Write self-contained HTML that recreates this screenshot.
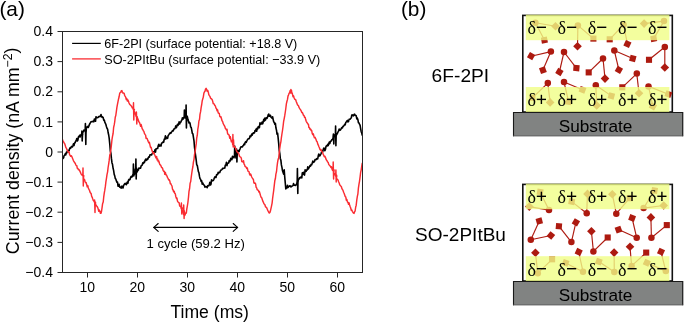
<!DOCTYPE html>
<html><head><meta charset="utf-8"><title>figure</title>
<style>
html,body{margin:0;padding:0;background:#fff;}
svg{display:block;will-change:transform;font-family:"Liberation Sans",sans-serif;fill:#000;}
.ser{font-family:"Liberation Serif",serif;font-size:18px;stroke:#000;stroke-width:1.4;}
.ser text{stroke:none;}
</style></head><body>
<svg width="685" height="324" viewBox="0 0 685 324">
<rect width="685" height="324" fill="#fff"/>
<!-- panel a -->
<text x="-0.6" y="16.2" font-size="20.8">(a)</text>
<g clip-path="url(#cp)">
<path d="M62.5,156.9 L63.0,158.5 L63.6,157.8 L64.1,155.6 L64.7,155.2 L65.2,153.9 L65.8,154.8 L66.3,152.3 L66.9,152.8 L67.4,151.1 L68.0,150.3 L68.5,150.8 L69.1,150.7 L69.6,148.8 L70.2,147.6 L70.7,148.2 L71.3,146.8 L71.8,146.4 L72.4,146.9 L72.9,145.8 L73.5,143.7 L74.0,145.5 L74.6,142.8 L75.1,142.8 L75.7,140.9 L76.2,140.7 L76.8,138.5 L77.3,141.0 L77.9,140.0 L78.4,137.0 L79.0,136.1 L79.5,135.3 L80.1,137.1 L80.6,135.0 L81.2,134.7 L81.7,133.8 L81.9,131.0 L82.2,141.0 L82.5,135.0 L82.8,133.8 L82.3,133.3 L82.8,131.7 L83.4,132.0 L83.9,130.1 L84.5,130.6 L85.0,130.3 L85.2,129.8 L85.4,123.6 L85.8,144.4 L86.0,133.0 L86.3,129.8 L86.1,128.5 L86.7,127.2 L87.2,127.5 L87.8,126.3 L88.3,127.5 L88.9,126.0 L89.4,124.5 L90.0,123.5 L90.5,122.5 L91.1,121.6 L91.6,121.7 L92.2,121.7 L92.7,121.4 L93.3,121.0 L93.8,121.9 L94.4,119.0 L94.9,119.2 L95.5,121.3 L96.0,116.7 L96.6,117.5 L97.1,117.8 L97.7,117.5 L98.2,117.4 L98.8,116.5 L99.3,116.7 L99.9,116.2 L100.4,116.5 L101.0,114.5 L101.5,116.0 L102.1,117.3 L102.6,116.9 L103.2,117.6 L103.7,120.1 L104.3,120.0 L104.8,122.2 L105.4,123.4 L105.9,124.5 L106.5,126.7 L107.0,128.3 L107.6,129.2 L108.1,132.5 L108.7,135.0 L109.2,138.4 L109.8,144.3 L110.3,150.7 L110.9,153.3 L111.4,158.2 L112.0,162.9 L112.5,164.3 L113.1,168.3 L113.6,170.4 L114.2,174.4 L114.7,175.7 L115.3,178.6 L115.8,178.9 L116.4,180.9 L116.9,182.2 L117.5,182.0 L118.0,186.2 L118.6,186.2 L119.1,184.3 L119.7,187.1 L120.2,186.8 L120.8,187.8 L121.3,188.1 L121.9,186.1 L122.4,186.9 L123.0,188.0 L123.5,185.8 L124.1,184.7 L124.6,183.8 L125.2,183.3 L125.7,184.1 L126.3,184.7 L126.8,182.9 L127.4,182.1 L127.9,183.3 L128.5,180.2 L129.0,179.4 L129.6,179.9 L130.1,179.2 L130.7,177.2 L131.2,176.4 L131.8,177.1 L132.3,176.5 L132.9,174.4 L133.2,174.8 L133.4,164.0 L133.8,176.0 L134.0,169.0 L134.3,174.8 L134.0,173.9 L134.5,174.1 L135.1,173.0 L135.6,172.4 L135.7,171.5 L135.9,159.0 L136.2,179.0 L136.5,168.0 L136.8,171.5 L136.7,172.2 L137.3,171.8 L137.8,169.6 L138.4,170.1 L138.9,168.0 L139.5,168.2 L140.0,168.1 L140.6,168.2 L141.1,165.9 L141.7,165.5 L142.2,165.1 L142.8,162.7 L143.3,163.5 L143.9,162.2 L144.4,162.6 L145.0,160.6 L145.6,159.2 L146.1,160.4 L146.7,160.0 L147.2,158.7 L147.8,159.3 L148.3,157.7 L148.9,156.8 L149.4,157.1 L150.0,154.7 L150.5,154.8 L151.1,154.8 L151.6,155.0 L152.2,153.5 L152.7,153.3 L153.3,151.8 L153.8,152.0 L154.4,152.7 L154.9,149.9 L155.5,152.1 L156.0,148.7 L156.6,148.7 L157.1,148.2 L157.7,148.4 L158.2,145.7 L158.8,144.3 L159.3,146.2 L159.9,145.7 L160.4,145.0 L161.0,146.1 L161.5,143.4 L162.1,142.8 L162.6,142.8 L163.2,141.7 L163.7,142.2 L164.3,139.0 L164.8,139.1 L165.4,135.8 L165.9,139.0 L166.5,137.3 L167.0,137.9 L167.6,138.3 L168.1,135.8 L168.7,134.9 L169.2,134.1 L169.8,133.2 L170.3,132.8 L170.9,133.3 L171.4,132.1 L172.0,131.5 L172.5,130.6 L173.1,131.0 L173.6,129.9 L174.2,128.7 L174.7,128.8 L175.3,127.5 L175.8,125.9 L176.4,127.7 L176.9,126.1 L177.5,124.2 L178.0,125.4 L178.6,124.2 L179.1,121.8 L179.7,124.0 L180.2,122.3 L180.8,122.2 L181.3,120.9 L181.9,119.9 L182.4,117.8 L183.0,119.3 L183.5,117.7 L184.1,117.0 L184.2,117.1 L184.4,110.0 L184.8,118.0 L185.0,113.0 L185.3,117.1 L185.2,116.8 L185.7,117.8 L185.9,117.4 L186.1,105.0 L186.4,128.0 L186.7,115.5 L187.0,117.4 L186.8,118.2 L187.4,116.8 L187.9,119.3 L188.5,121.3 L189.0,122.9 L189.6,122.4 L190.1,123.6 L190.7,127.1 L191.2,127.4 L191.8,130.4 L192.3,133.3 L192.9,133.8 L193.4,137.2 L194.0,140.9 L194.5,147.1 L195.1,152.0 L195.6,155.7 L196.2,160.1 L196.7,164.7 L197.3,165.5 L197.8,168.3 L198.4,171.7 L198.9,172.6 L199.5,176.4 L200.0,178.7 L200.6,179.3 L201.1,181.4 L201.7,180.8 L202.2,184.2 L202.8,183.0 L203.3,184.3 L203.9,184.9 L204.4,185.5 L205.0,187.1 L205.5,186.9 L206.1,186.5 L206.6,187.0 L207.2,187.6 L207.7,185.8 L208.3,185.6 L208.8,185.8 L209.4,184.3 L209.9,182.3 L210.5,185.0 L211.0,184.1 L211.6,179.7 L212.1,180.9 L212.7,180.6 L213.2,180.5 L213.8,179.6 L214.3,178.1 L214.9,176.8 L215.4,177.2 L216.0,177.4 L216.5,174.9 L217.1,174.3 L217.6,174.6 L218.2,172.2 L218.7,173.1 L219.3,172.3 L219.8,172.5 L220.4,170.8 L220.9,170.1 L221.5,169.9 L222.0,169.5 L222.6,168.4 L223.1,168.3 L223.7,168.4 L224.2,168.1 L224.8,168.0 L225.3,165.1 L225.9,164.8 L226.4,162.3 L227.0,165.6 L227.5,163.2 L228.1,163.1 L228.6,163.0 L229.2,160.6 L229.7,161.6 L230.3,160.5 L230.8,158.2 L231.4,159.5 L231.9,159.6 L232.5,156.2 L233.0,158.0 L233.6,156.8 L234.1,156.4 L234.5,155.7 L234.7,146.0 L235.1,158.0 L235.3,151.0 L235.6,155.7 L235.2,155.8 L235.8,153.8 L236.3,154.1 L236.4,152.3 L236.6,149.0 L236.9,162.0 L237.2,154.5 L237.5,152.3 L237.4,152.7 L238.0,150.6 L238.5,150.6 L239.1,151.6 L239.6,149.8 L240.2,148.6 L240.7,147.1 L241.3,146.7 L241.8,147.0 L242.4,147.0 L242.9,145.9 L243.5,145.3 L244.0,144.1 L244.6,144.7 L245.1,142.5 L245.7,141.7 L246.2,142.4 L246.8,141.0 L247.3,140.0 L247.9,139.1 L248.4,138.7 L249.0,138.8 L249.5,138.0 L250.1,135.9 L250.6,136.7 L251.2,135.8 L251.7,134.1 L252.3,135.1 L252.8,133.5 L253.4,132.8 L253.9,133.1 L254.5,132.9 L255.0,130.5 L255.6,130.8 L256.1,129.0 L256.7,131.2 L257.2,128.0 L257.8,128.8 L258.3,126.5 L258.9,127.1 L259.4,127.7 L260.0,122.7 L260.5,124.0 L261.1,124.2 L261.6,123.1 L262.2,122.0 L262.7,123.9 L263.3,121.5 L263.8,119.3 L264.4,121.0 L264.9,118.1 L265.5,120.1 L266.0,118.0 L266.6,117.9 L267.1,118.3 L267.7,116.6 L268.2,114.7 L268.8,114.0 L269.3,116.2 L269.9,116.1 L270.4,115.3 L271.0,117.3 L271.5,117.5 L272.1,118.3 L272.6,116.7 L273.2,119.6 L273.7,121.7 L274.3,122.6 L274.8,124.2 L275.4,123.3 L275.9,127.8 L276.5,130.2 L277.0,134.1 L277.6,133.1 L278.1,137.6 L278.7,143.6 L279.2,150.0 L279.8,153.3 L280.3,158.4 L280.9,160.3 L281.4,164.9 L282.0,167.7 L282.5,170.8 L283.1,172.5 L283.6,174.1 L284.2,169.8 L284.7,176.6 L285.3,183.3 L285.8,188.9 L286.4,187.6 L286.9,188.0 L287.5,185.2 L288.0,187.5 L288.6,186.7 L289.1,186.4 L289.7,185.9 L290.2,185.8 L290.8,186.9 L291.3,186.7 L291.9,186.2 L292.4,185.9 L293.0,185.6 L293.5,183.6 L294.1,185.3 L294.6,185.0 L295.2,185.5 L295.7,185.2 L296.3,184.4 L296.8,183.9 L297.2,181.0 L297.4,168.6 L297.8,193.4 L298.0,180.0 L298.3,181.0 L297.9,179.0 L298.5,179.6 L299.0,179.2 L299.6,177.7 L300.1,177.9 L300.7,177.7 L301.2,176.5 L301.8,177.8 L302.3,172.9 L302.9,174.5 L303.4,172.3 L304.0,174.2 L304.5,175.1 L305.1,169.8 L305.6,171.5 L306.2,171.2 L306.7,169.8 L307.3,169.9 L307.8,166.7 L308.4,168.9 L308.9,167.8 L309.5,166.8 L310.0,165.6 L310.6,166.1 L311.1,164.4 L311.7,164.6 L312.2,163.3 L312.8,161.1 L313.3,162.4 L313.9,161.9 L314.4,161.8 L315.0,159.6 L315.5,159.7 L316.1,159.6 L316.6,158.6 L317.2,158.9 L317.7,158.9 L318.3,155.6 L318.8,154.0 L319.4,155.9 L319.9,155.8 L320.5,154.6 L321.0,153.8 L321.6,151.9 L322.1,151.1 L322.7,151.9 L323.2,149.6 L323.8,148.1 L324.3,148.2 L324.9,150.7 L325.4,149.5 L326.0,146.5 L326.5,145.8 L327.1,145.9 L327.6,144.4 L328.2,145.6 L328.7,143.7 L329.3,142.1 L329.8,143.6 L330.4,141.2 L330.9,141.3 L331.5,140.4 L332.0,139.5 L332.6,139.4 L333.1,137.8 L333.2,136.1 L333.4,134.0 L333.8,144.0 L334.0,138.0 L334.3,136.1 L334.2,135.1 L334.8,135.3 L335.3,135.0 L335.4,135.0 L335.6,126.0 L335.9,145.7 L336.2,134.8 L336.5,135.0 L336.4,134.4 L337.0,134.2 L337.5,133.2 L338.1,131.7 L338.6,131.1 L339.2,129.1 L339.7,130.2 L340.3,130.1 L340.8,129.5 L341.4,128.2 L341.9,127.5 L342.5,127.8 L343.0,126.3 L343.6,126.2 L344.1,125.4 L344.7,124.4 L345.2,124.8 L345.8,122.4 L346.3,122.0 L346.9,121.0 L347.4,120.4 L348.0,121.9 L348.5,121.5 L349.1,119.4 L349.6,119.3 L350.2,119.2 L350.7,118.3 L351.3,117.9 L351.8,115.0 L352.4,114.9 L352.9,115.5 L353.5,115.9 L354.0,114.5 L354.6,114.2 L355.1,115.2 L355.7,115.5 L356.2,115.8 L356.8,118.9 L357.3,118.0 L357.9,119.7 L358.4,122.7 L359.0,122.9 L359.5,124.1 L360.1,125.4 L360.6,128.4 L361.2,131.7 L361.7,132.9 L362.3,135.7" fill="none" stroke="#000" stroke-width="1.6" stroke-linejoin="round"/>
<path d="M62.5,139.5 L63.0,141.2 L63.6,141.9 L64.1,142.9 L64.7,143.7 L65.2,145.3 L65.8,147.4 L66.3,148.1 L66.9,149.6 L67.4,150.2 L68.0,151.5 L68.5,152.3 L69.1,152.0 L69.6,154.7 L70.2,155.4 L70.7,156.3 L71.3,155.7 L71.8,156.6 L72.4,158.1 L72.9,159.3 L73.5,160.8 L74.0,161.5 L74.6,162.8 L75.1,163.0 L75.7,164.6 L76.2,165.5 L76.8,165.7 L77.3,168.3 L77.9,168.5 L78.4,169.8 L79.0,169.5 L79.5,170.4 L80.1,171.6 L80.6,172.7 L81.2,174.1 L81.7,174.8 L82.3,175.2 L82.8,175.8 L83.0,168.0 L83.3,186.0 L83.6,176.0 L83.9,175.8 L83.4,177.2 L83.9,179.6 L84.5,179.4 L85.0,181.3 L85.6,182.6 L86.1,182.5 L86.7,184.7 L87.2,186.8 L87.8,185.6 L88.3,188.0 L88.9,189.3 L89.4,190.0 L90.0,192.1 L90.5,193.0 L91.1,193.3 L91.6,196.2 L92.2,197.3 L92.7,198.8 L93.3,200.4 L93.8,200.9 L94.4,202.0 L94.4,202.2 L94.6,200.0 L95.0,212.5 L95.2,205.2 L95.5,202.2 L95.5,204.6 L96.0,204.8 L96.6,205.9 L97.1,206.4 L97.7,207.6 L98.2,209.0 L98.8,211.3 L99.3,210.0 L99.9,211.3 L100.4,213.3 L101.0,213.2 L101.5,211.5 L102.1,207.4 L102.6,203.7 L103.2,202.1 L103.7,197.2 L104.3,192.8 L104.8,190.2 L105.4,186.2 L105.9,181.8 L106.5,178.2 L107.0,174.7 L107.6,171.8 L108.1,167.5 L108.7,163.8 L109.2,160.2 L109.8,155.0 L110.3,153.4 L110.9,149.3 L111.4,145.1 L112.0,139.4 L112.5,136.4 L113.1,133.5 L113.6,127.7 L114.2,124.9 L114.7,122.0 L115.3,116.9 L115.8,115.5 L116.4,111.2 L116.9,107.3 L117.5,104.1 L118.0,101.7 L118.6,98.7 L119.1,96.8 L119.7,93.4 L120.2,92.5 L120.8,92.4 L121.3,90.7 L121.9,90.6 L122.4,92.3 L123.0,93.2 L123.5,92.9 L124.1,93.3 L124.6,95.3 L125.2,96.3 L125.7,97.3 L126.3,99.5 L126.8,98.6 L127.4,101.0 L127.9,100.0 L128.5,101.2 L129.0,103.0 L129.6,104.2 L130.1,104.8 L130.7,105.3 L131.2,105.9 L131.8,106.8 L132.3,107.9 L132.9,108.2 L133.3,109.5 L133.5,102.8 L133.8,120.0 L134.1,110.4 L134.4,109.5 L134.0,110.9 L134.5,111.7 L135.1,113.4 L135.6,114.5 L136.2,116.7 L136.2,116.8 L136.4,112.0 L136.8,124.0 L137.0,117.0 L137.3,116.8 L137.3,117.5 L137.8,118.7 L138.4,120.2 L138.9,122.0 L139.5,122.4 L140.0,124.1 L140.6,126.3 L141.1,124.5 L141.7,126.7 L142.2,128.8 L142.8,129.5 L143.3,130.7 L143.9,131.4 L144.4,133.4 L145.0,134.4 L145.6,135.1 L146.1,138.4 L146.7,138.2 L147.2,138.8 L147.8,140.4 L148.3,141.6 L148.9,142.9 L149.4,142.3 L150.0,145.1 L150.5,147.4 L151.1,147.2 L151.6,149.2 L152.2,151.1 L152.7,152.3 L153.3,153.7 L153.8,152.4 L154.4,154.2 L154.9,155.2 L155.5,156.8 L156.0,158.1 L156.6,156.4 L157.1,159.9 L157.7,159.1 L158.2,161.5 L158.8,161.0 L159.3,163.1 L159.9,164.7 L160.4,164.7 L161.0,165.9 L161.5,167.3 L162.1,167.7 L162.6,168.5 L163.2,170.6 L163.7,171.2 L164.3,171.2 L164.8,174.3 L165.4,172.5 L165.9,174.9 L166.5,175.0 L167.0,176.2 L167.6,177.6 L168.1,178.5 L168.7,180.0 L169.2,179.7 L169.8,181.0 L170.3,183.7 L170.9,183.8 L171.4,185.0 L172.0,186.0 L172.5,189.1 L173.1,190.0 L173.6,191.8 L174.2,191.3 L174.7,193.3 L175.3,193.8 L175.8,196.5 L176.4,198.4 L176.9,198.0 L177.5,201.1 L178.0,202.0 L178.6,202.5 L179.1,202.6 L179.7,206.1 L180.2,206.1 L180.8,206.8 L181.2,208.6 L181.4,203.0 L181.8,214.0 L182.0,207.5 L182.3,208.6 L181.9,209.7 L182.4,211.5 L183.0,210.8 L183.5,213.4 L183.5,214.6 L183.7,205.0 L184.1,218.5 L184.3,210.8 L184.6,214.6 L184.6,215.5 L185.2,214.6 L185.7,213.0 L186.3,213.1 L186.8,209.0 L187.4,205.6 L187.9,202.5 L188.5,197.1 L189.0,191.4 L189.6,188.5 L190.1,183.4 L190.7,181.5 L191.2,177.4 L191.8,173.0 L192.3,169.7 L192.9,166.5 L193.4,162.2 L194.0,159.3 L194.5,154.6 L195.1,151.6 L195.6,147.8 L196.2,143.9 L196.7,138.2 L197.3,135.2 L197.8,129.3 L198.4,125.8 L198.9,121.1 L199.5,119.6 L200.0,114.4 L200.6,111.7 L201.1,107.9 L201.7,104.5 L202.2,100.9 L202.8,98.7 L203.3,97.1 L203.9,93.1 L204.4,92.0 L205.0,91.2 L205.5,89.2 L206.1,88.3 L206.6,89.5 L207.2,91.3 L207.7,90.3 L208.3,92.2 L208.8,94.6 L209.4,95.6 L209.9,96.3 L210.5,98.0 L211.0,98.7 L211.6,98.8 L212.1,99.6 L212.7,101.3 L213.2,103.5 L213.8,103.6 L214.3,104.4 L214.9,105.6 L215.4,106.1 L216.0,108.2 L216.5,108.5 L217.1,110.7 L217.6,109.9 L218.2,112.9 L218.7,113.3 L219.3,113.5 L219.8,116.5 L220.4,117.0 L220.9,116.7 L221.5,118.8 L222.0,120.8 L222.6,121.4 L223.1,123.4 L223.7,124.5 L224.2,125.5 L224.8,126.4 L225.3,128.3 L225.9,128.9 L226.4,129.9 L227.0,129.3 L227.5,133.1 L228.1,134.4 L228.6,134.4 L229.2,135.4 L229.7,138.2 L230.3,136.7 L230.8,139.3 L231.4,141.8 L231.9,140.6 L232.5,142.8 L232.7,144.7 L232.9,134.5 L233.2,147.0 L233.5,139.8 L233.8,144.7 L233.6,144.4 L234.1,146.0 L234.7,147.3 L235.2,147.2 L235.8,148.8 L236.3,150.2 L236.9,151.7 L237.4,152.1 L238.0,152.9 L238.5,153.3 L239.1,154.7 L239.6,156.5 L240.2,156.9 L240.7,157.2 L241.3,158.2 L241.8,161.6 L242.4,161.5 L242.9,162.1 L243.5,160.7 L244.0,163.9 L244.6,164.8 L245.1,166.6 L245.7,166.7 L246.2,167.3 L246.8,168.6 L247.3,167.9 L247.9,170.9 L248.4,171.4 L249.0,171.6 L249.5,174.0 L250.1,175.2 L250.6,174.0 L251.2,175.4 L251.7,177.0 L252.3,178.0 L252.8,178.8 L253.4,179.5 L253.9,182.9 L254.5,183.3 L255.0,182.9 L255.6,183.9 L256.1,187.2 L256.7,187.9 L257.2,189.7 L257.8,190.1 L258.3,190.1 L258.9,192.1 L259.4,191.6 L260.0,193.8 L260.5,195.5 L261.1,197.2 L261.6,197.6 L262.2,199.2 L262.7,200.9 L263.3,202.1 L263.8,203.4 L264.4,204.2 L264.9,204.8 L265.5,206.7 L266.0,207.2 L266.6,207.6 L267.1,208.8 L267.7,210.3 L268.2,211.2 L268.8,212.3 L269.3,213.1 L269.9,212.5 L270.4,211.1 L271.0,208.3 L271.5,206.1 L272.1,203.1 L272.6,198.5 L273.2,194.0 L273.7,190.3 L274.3,185.2 L274.8,180.8 L275.4,178.5 L275.9,174.2 L276.5,171.7 L277.0,166.8 L277.6,162.1 L278.1,159.5 L278.7,157.7 L279.2,152.7 L279.8,148.2 L280.3,144.7 L280.9,141.6 L281.4,137.7 L282.0,133.5 L282.5,130.5 L283.1,126.0 L283.6,121.7 L284.2,118.7 L284.7,115.9 L285.3,112.0 L285.8,108.5 L286.4,103.6 L286.9,101.5 L287.5,99.4 L288.0,96.1 L288.6,94.7 L289.1,93.3 L289.7,92.4 L290.2,90.5 L290.7,93.1 L290.9,89.5 L291.2,93.0 L291.5,90.2 L291.8,93.1 L291.3,92.8 L291.9,92.5 L292.4,93.8 L293.0,96.7 L293.5,95.8 L294.1,97.8 L294.6,99.1 L295.2,99.5 L295.7,99.7 L296.3,101.7 L296.8,102.9 L297.4,104.5 L297.9,105.3 L298.5,105.8 L299.0,107.4 L299.6,108.3 L300.1,109.1 L300.7,110.0 L301.2,110.9 L301.8,112.6 L302.3,112.4 L302.9,113.8 L303.4,115.3 L304.0,115.4 L304.5,117.2 L305.1,117.2 L305.6,119.3 L306.2,121.2 L306.7,122.3 L307.3,123.0 L307.8,124.0 L308.4,124.2 L308.9,127.6 L309.5,127.8 L310.0,129.3 L310.6,129.0 L311.1,130.6 L311.7,130.5 L312.2,133.4 L312.8,134.7 L313.3,133.8 L313.9,136.2 L314.4,137.7 L315.0,137.2 L315.5,138.2 L316.1,139.8 L316.6,141.2 L317.2,141.8 L317.7,143.9 L318.3,145.1 L318.8,146.5 L319.4,147.7 L319.9,149.3 L320.5,150.2 L321.0,149.5 L321.6,151.2 L322.1,151.8 L322.7,152.7 L323.2,154.4 L323.8,155.4 L324.3,156.7 L324.9,156.2 L325.4,157.3 L326.0,159.2 L326.5,160.0 L327.1,160.9 L327.6,162.0 L328.2,162.4 L328.7,164.4 L329.3,165.1 L329.8,165.8 L330.4,166.3 L330.9,167.6 L331.5,166.8 L332.0,169.0 L332.6,170.6 L333.0,170.5 L333.2,162.0 L333.6,179.0 L333.8,169.5 L334.1,170.5 L333.7,172.6 L334.2,173.5 L334.8,173.4 L335.3,175.2 L335.7,176.1 L335.9,170.0 L336.2,182.0 L336.5,175.0 L336.8,176.1 L336.4,177.6 L337.0,178.8 L337.5,179.5 L338.1,180.1 L338.6,181.8 L339.2,183.0 L339.7,184.7 L340.3,185.6 L340.8,186.1 L341.4,186.8 L341.9,188.6 L342.5,189.5 L343.0,190.4 L343.6,192.3 L344.1,193.3 L344.7,195.0 L345.2,196.5 L345.8,197.1 L346.3,200.2 L346.9,199.6 L347.4,201.9 L348.0,202.4 L348.5,204.2 L349.1,202.8 L349.6,205.0 L350.2,206.7 L350.7,208.0 L351.3,210.3 L351.8,209.9 L352.4,211.6 L352.9,212.2 L353.5,213.2 L354.0,213.4 L354.6,211.7 L355.1,211.1 L355.7,207.0 L356.2,205.2 L356.8,199.8 L357.3,196.6 L357.9,193.8 L358.4,188.1 L359.0,184.2 L359.5,181.3 L360.1,176.9 L360.6,172.7 L361.2,169.8 L361.7,166.4 L362.3,162.8" fill="none" stroke="#fa2c32" stroke-width="1.45" stroke-linejoin="round"/>
</g>
<clipPath id="cp"><rect x="62.5" y="31" width="300" height="241"/></clipPath>
<rect x="62.5" y="31.5" width="300" height="241" fill="none" stroke="#262626" stroke-width="1"/>
<g stroke="#262626" stroke-width="1"><line x1="87.5" y1="272.5" x2="87.5" y2="277.5"/><line x1="137.5" y1="272.5" x2="137.5" y2="277.5"/><line x1="187.5" y1="272.5" x2="187.5" y2="277.5"/><line x1="237.5" y1="272.5" x2="237.5" y2="277.5"/><line x1="287.5" y1="272.5" x2="287.5" y2="277.5"/><line x1="337.5" y1="272.5" x2="337.5" y2="277.5"/><line x1="57.5" y1="31.5" x2="62.5" y2="31.5"/><line x1="57.5" y1="61.6" x2="62.5" y2="61.6"/><line x1="57.5" y1="91.8" x2="62.5" y2="91.8"/><line x1="57.5" y1="121.9" x2="62.5" y2="121.9"/><line x1="57.5" y1="152.0" x2="62.5" y2="152.0"/><line x1="57.5" y1="182.1" x2="62.5" y2="182.1"/><line x1="57.5" y1="212.2" x2="62.5" y2="212.2"/><line x1="57.5" y1="242.4" x2="62.5" y2="242.4"/><line x1="57.5" y1="272.5" x2="62.5" y2="272.5"/></g>
<g font-size="14"><text x="87.2" y="292.4" text-anchor="middle">10</text><text x="137.2" y="292.4" text-anchor="middle">20</text><text x="187.2" y="292.4" text-anchor="middle">30</text><text x="237.2" y="292.4" text-anchor="middle">40</text><text x="287.2" y="292.4" text-anchor="middle">50</text><text x="337.2" y="292.4" text-anchor="middle">60</text><text x="53" y="36.1" text-anchor="end">0.4</text><text x="53" y="66.2" text-anchor="end">0.3</text><text x="53" y="96.3" text-anchor="end">0.2</text><text x="53" y="126.5" text-anchor="end">0.1</text><text x="53" y="156.6" text-anchor="end">0</text><text x="53" y="186.7" text-anchor="end">−0.1</text><text x="53" y="216.8" text-anchor="end">−0.2</text><text x="53" y="247.0" text-anchor="end">−0.3</text><text x="53" y="277.1" text-anchor="end">−0.4</text></g>
<text x="209.7" y="318.3" font-size="17.6" text-anchor="middle">Time (ms)</text>
<text transform="translate(19.0,150.9) rotate(-90)" font-size="17.8" text-anchor="middle">Current density (nA mm<tspan font-size="12.2" dy="-7.4">−2</tspan><tspan dy="5.4">)</tspan></text>
<line x1="72.1" y1="43.4" x2="100.8" y2="43.4" stroke="#000" stroke-width="1.2"/>
<line x1="72.1" y1="58.9" x2="100.8" y2="58.9" stroke="#fa2c32" stroke-width="1.3"/>
<text x="104.3" y="48.3" font-size="13.3" textLength="193" lengthAdjust="spacingAndGlyphs">6F-2PI (surface potential: +18.8 V)</text>
<text x="104.3" y="64.0" font-size="13.3" textLength="216" lengthAdjust="spacingAndGlyphs">SO-2PItBu (surface potential: −33.9 V)</text>
<g stroke="#000" stroke-width="1.1" fill="none" stroke-linecap="round">
<line x1="153.9" y1="227.4" x2="237.5" y2="227.4"/>
<polyline points="158.2,223.5 153.8,227.4 158.2,231.3"/>
<polyline points="233.2,223.5 237.6,227.4 233.2,231.3"/>
</g>
<text x="195.7" y="248.4" font-size="13.1" text-anchor="middle">1 cycle (59.2 Hz)</text>
<!-- panel b -->
<text x="400.9" y="16.2" font-size="20.8">(b)</text>
<text x="431.6" y="81.7" font-size="19.2">6F-2PI</text>
<text x="415.1" y="241" font-size="19">SO-2PItBu</text>
<!-- top cell -->
<rect x="522.8" y="15.4" width="149.5" height="96.6" fill="#fff" stroke="#111" stroke-width="1.6"/>
<g fill="#ad1a10" stroke="#ad1a10" stroke-width="1.15"><line x1="535.4" y1="22.7" x2="555.5" y2="26.2"/><line x1="535.4" y1="22.7" x2="544.4" y2="40.1"/><circle cx="535.4" cy="22.7" r="3.25" stroke="none"/><rect x="552.45" y="23.15" width="6.1" height="6.1" stroke="none" transform="rotate(45 555.5 26.2)"/><rect x="541.35" y="37.05" width="6.1" height="6.1" stroke="none" transform="rotate(-10 544.4 40.1)"/><line x1="577.9" y1="25.4" x2="577.5" y2="46.3"/><line x1="577.9" y1="25.4" x2="593.4" y2="38.6"/><circle cx="577.9" cy="25.4" r="3.25" stroke="none"/><rect x="574.45" y="43.25" width="6.1" height="6.1" stroke="none" transform="rotate(45 577.5 46.3)"/><rect x="590.35" y="35.55" width="6.1" height="6.1" stroke="none" transform="rotate(0 593.4 38.6)"/><line x1="623.6" y1="24.7" x2="609.7" y2="39.3"/><line x1="623.6" y1="24.7" x2="627.4" y2="44.0"/><circle cx="623.6" cy="24.7" r="3.25" stroke="none"/><rect x="606.65" y="36.25" width="6.1" height="6.1" stroke="none" transform="rotate(0 609.7 39.3)"/><rect x="624.35" y="40.95" width="6.1" height="6.1" stroke="none" transform="rotate(25 627.4 44.0)"/><line x1="664.0" y1="21.1" x2="644.1" y2="23.6"/><line x1="664.0" y1="21.1" x2="653.7" y2="38.6"/><circle cx="664.0" cy="21.1" r="3.25" stroke="none"/><rect x="641.05" y="20.55" width="6.1" height="6.1" stroke="none" transform="rotate(45 644.1 23.6)"/><rect x="650.65" y="35.55" width="6.1" height="6.1" stroke="none" transform="rotate(-10 653.7 38.6)"/><line x1="550.9" y1="51.6" x2="531.1" y2="56.2"/><line x1="550.9" y1="51.6" x2="542.9" y2="70.1"/><circle cx="550.9" cy="51.6" r="3.25" stroke="none"/><rect x="528.05" y="53.15" width="6.1" height="6.1" stroke="none" transform="rotate(30 531.1 56.2)"/><rect x="539.85" y="67.05" width="6.1" height="6.1" stroke="none" transform="rotate(-20 542.9 70.1)"/><line x1="564.0" y1="52.0" x2="559.4" y2="72.0"/><line x1="564.0" y1="52.0" x2="576.4" y2="68.1"/><circle cx="564.0" cy="52.0" r="3.25" stroke="none"/><rect x="556.35" y="68.95" width="6.1" height="6.1" stroke="none" transform="rotate(30 559.4 72.0)"/><rect x="573.35" y="65.05" width="6.1" height="6.1" stroke="none" transform="rotate(5 576.4 68.1)"/><line x1="603.0" y1="58.5" x2="588.7" y2="72.4"/><line x1="603.0" y1="58.5" x2="605.0" y2="78.6"/><circle cx="603.0" cy="58.5" r="3.25" stroke="none"/><rect x="585.65" y="69.35" width="6.1" height="6.1" stroke="none" transform="rotate(0 588.7 72.4)"/><rect x="601.95" y="75.55" width="6.1" height="6.1" stroke="none" transform="rotate(45 605.0 78.6)"/><line x1="614.3" y1="50.5" x2="632.8" y2="58.5"/><line x1="614.3" y1="50.5" x2="618.9" y2="69.8"/><circle cx="614.3" cy="50.5" r="3.25" stroke="none"/><rect x="629.75" y="55.45" width="6.1" height="6.1" stroke="none" transform="rotate(15 632.8 58.5)"/><rect x="615.85" y="66.75" width="6.1" height="6.1" stroke="none" transform="rotate(30 618.9 69.8)"/><line x1="664.8" y1="47.0" x2="649.0" y2="59.8"/><line x1="664.8" y1="47.0" x2="664.8" y2="67.5"/><circle cx="664.8" cy="47.0" r="3.25" stroke="none"/><rect x="645.95" y="56.75" width="6.1" height="6.1" stroke="none" transform="rotate(0 649.0 59.8)"/><rect x="661.75" y="64.45" width="6.1" height="6.1" stroke="none" transform="rotate(45 664.8 67.5)"/><line x1="547.8" y1="83.1" x2="532.4" y2="97.8"/><line x1="547.8" y1="83.1" x2="550.1" y2="102.4"/><circle cx="547.8" cy="83.1" r="3.25" stroke="none"/><rect x="529.35" y="94.75" width="6.1" height="6.1" stroke="none" transform="rotate(0 532.4 97.8)"/><rect x="547.05" y="99.35" width="6.1" height="6.1" stroke="none" transform="rotate(45 550.1 102.4)"/><line x1="564.0" y1="82.0" x2="582.5" y2="89.8"/><line x1="564.0" y1="82.0" x2="568.6" y2="101.7"/><circle cx="564.0" cy="82.0" r="3.25" stroke="none"/><rect x="579.45" y="86.75" width="6.1" height="6.1" stroke="none" transform="rotate(20 582.5 89.8)"/><rect x="565.55" y="98.65" width="6.1" height="6.1" stroke="none" transform="rotate(10 568.6 101.7)"/><line x1="595.8" y1="85.2" x2="611.4" y2="95.9"/><line x1="595.8" y1="85.2" x2="596.7" y2="105.4"/><circle cx="595.8" cy="85.2" r="3.25" stroke="none"/><rect x="608.35" y="92.85" width="6.1" height="6.1" stroke="none" transform="rotate(15 611.4 95.9)"/><rect x="593.65" y="102.35" width="6.1" height="6.1" stroke="none" transform="rotate(45 596.7 105.4)"/><line x1="636.8" y1="73.6" x2="622.3" y2="87.3"/><line x1="636.8" y1="73.6" x2="639.0" y2="93.3"/><circle cx="636.8" cy="73.6" r="3.25" stroke="none"/><rect x="619.25" y="84.25" width="6.1" height="6.1" stroke="none" transform="rotate(0 622.3 87.3)"/><rect x="635.95" y="90.25" width="6.1" height="6.1" stroke="none" transform="rotate(45 639.0 93.3)"/><line x1="648.5" y1="86.4" x2="668.4" y2="94.2"/><line x1="648.5" y1="86.4" x2="652.9" y2="106.3"/><circle cx="648.5" cy="86.4" r="3.25" stroke="none"/><rect x="665.35" y="91.15" width="6.1" height="6.1" stroke="none" transform="rotate(20 668.4 94.2)"/><rect x="649.85" y="103.25" width="6.1" height="6.1" stroke="none" transform="rotate(30 652.9 106.3)"/></g>
<rect x="525.8" y="14.7" width="143.6" height="25.5" fill="rgba(240,254,134,0.80)"/>
<rect x="525.8" y="87" width="143.6" height="25.6" fill="rgba(240,254,134,0.80)"/>
<g class="ser"><text x="527.4" y="34.3">δ</text><line x1="536.8" y1="27.3" x2="546.0" y2="27.3"/><text x="557.6" y="34.3">δ</text><line x1="567.0" y1="27.3" x2="576.2" y2="27.3"/><text x="587.8" y="34.3">δ</text><line x1="597.1" y1="27.3" x2="606.3" y2="27.3"/><text x="618.0" y="34.3">δ</text><line x1="627.4" y1="27.3" x2="636.6" y2="27.3"/><text x="647.9" y="34.3">δ</text><line x1="657.3" y1="27.3" x2="666.5" y2="27.3"/><text x="527.4" y="106.4">δ</text><line x1="536.8" y1="99.4" x2="546.0" y2="99.4"/><line x1="541.4" y1="94.8" x2="541.4" y2="104.0"/><text x="557.6" y="106.4">δ</text><line x1="567.0" y1="99.4" x2="576.2" y2="99.4"/><line x1="571.6" y1="94.8" x2="571.6" y2="104.0"/><text x="587.8" y="106.4">δ</text><line x1="597.1" y1="99.4" x2="606.3" y2="99.4"/><line x1="601.7" y1="94.8" x2="601.7" y2="104.0"/><text x="618.0" y="106.4">δ</text><line x1="627.4" y1="99.4" x2="636.6" y2="99.4"/><line x1="632.0" y1="94.8" x2="632.0" y2="104.0"/><text x="647.9" y="106.4">δ</text><line x1="657.3" y1="99.4" x2="666.5" y2="99.4"/><line x1="661.9" y1="94.8" x2="661.9" y2="104.0"/></g>
<rect x="513" y="112.0" width="170.2" height="24.2" fill="#818382"/><polyline points="513.5,136.2 513.5,112.5 682.7,112.5 682.7,136.2" fill="none" stroke="#1a1a1a" stroke-width="1.1"/><line x1="513" y1="135.9" x2="683.2" y2="135.9" stroke="#555" stroke-width="0.7"/>
<text x="595.5" y="131.6" font-size="17.2" text-anchor="middle">Substrate</text>
<!-- bottom cell -->
<rect x="522.8" y="184.4" width="149.5" height="96.6" fill="#fff" stroke="#111" stroke-width="1.6"/>
<g fill="#ad1a10" stroke="#ad1a10" stroke-width="1.15"><line x1="549.0" y1="210.1" x2="540.1" y2="192.0"/><line x1="549.0" y1="210.1" x2="529.3" y2="206.6"/><circle cx="549.0" cy="210.1" r="3.25" stroke="none"/><rect x="537.05" y="188.95" width="6.1" height="6.1" stroke="none" transform="rotate(10 540.1 192.0)"/><rect x="526.25" y="203.55" width="6.1" height="6.1" stroke="none" transform="rotate(45 529.3 206.6)"/><line x1="586.7" y1="213.2" x2="571.7" y2="201.6"/><line x1="586.7" y1="213.2" x2="587.5" y2="193.9"/><circle cx="586.7" cy="213.2" r="3.25" stroke="none"/><rect x="568.65" y="198.55" width="6.1" height="6.1" stroke="none" transform="rotate(10 571.7 201.6)"/><rect x="584.45" y="190.85" width="6.1" height="6.1" stroke="none" transform="rotate(45 587.5 193.9)"/><line x1="616.3" y1="213.7" x2="612.3" y2="194.2"/><line x1="616.3" y1="213.7" x2="629.7" y2="198.2"/><circle cx="616.3" cy="213.7" r="3.25" stroke="none"/><rect x="609.25" y="191.15" width="6.1" height="6.1" stroke="none" transform="rotate(45 612.3 194.2)"/><rect x="626.65" y="195.15" width="6.1" height="6.1" stroke="none" transform="rotate(0 629.7 198.2)"/><line x1="643.6" y1="208.1" x2="654.5" y2="190.5"/><line x1="643.6" y1="208.1" x2="663.7" y2="205.5"/><circle cx="643.6" cy="208.1" r="3.25" stroke="none"/><rect x="651.45" y="187.45" width="6.1" height="6.1" stroke="none" transform="rotate(10 654.5 190.5)"/><rect x="660.65" y="202.45" width="6.1" height="6.1" stroke="none" transform="rotate(45 663.7 205.5)"/><line x1="530.8" y1="239.7" x2="539.3" y2="221.1"/><line x1="530.8" y1="239.7" x2="550.9" y2="235.5"/><circle cx="530.8" cy="239.7" r="3.25" stroke="none"/><rect x="536.25" y="218.05" width="6.1" height="6.1" stroke="none" transform="rotate(-15 539.3 221.1)"/><rect x="547.85" y="232.45" width="6.1" height="6.1" stroke="none" transform="rotate(40 550.9 235.5)"/><line x1="571.4" y1="242.1" x2="558.9" y2="226.2"/><line x1="571.4" y1="242.1" x2="575.9" y2="222.4"/><circle cx="571.4" cy="242.1" r="3.25" stroke="none"/><rect x="555.85" y="223.15" width="6.1" height="6.1" stroke="none" transform="rotate(5 558.9 226.2)"/><rect x="572.85" y="219.35" width="6.1" height="6.1" stroke="none" transform="rotate(30 575.9 222.4)"/><line x1="593.4" y1="251.4" x2="591.4" y2="231.3"/><line x1="593.4" y1="251.4" x2="607.7" y2="237.5"/><circle cx="593.4" cy="251.4" r="3.25" stroke="none"/><rect x="588.35" y="228.25" width="6.1" height="6.1" stroke="none" transform="rotate(45 591.4 231.3)"/><rect x="604.65" y="234.45" width="6.1" height="6.1" stroke="none" transform="rotate(0 607.7 237.5)"/><line x1="636.7" y1="237.8" x2="632.1" y2="218.0"/><line x1="636.7" y1="237.8" x2="618.5" y2="229.6"/><circle cx="636.7" cy="237.8" r="3.25" stroke="none"/><rect x="629.05" y="214.95" width="6.1" height="6.1" stroke="none" transform="rotate(20 632.1 218.0)"/><rect x="615.45" y="226.55" width="6.1" height="6.1" stroke="none" transform="rotate(-20 618.5 229.6)"/><line x1="651.4" y1="237.8" x2="650.9" y2="217.4"/><line x1="651.4" y1="237.8" x2="666.8" y2="225.1"/><circle cx="651.4" cy="237.8" r="3.25" stroke="none"/><rect x="647.85" y="214.35" width="6.1" height="6.1" stroke="none" transform="rotate(45 650.9 217.4)"/><rect x="663.75" y="222.05" width="6.1" height="6.1" stroke="none" transform="rotate(0 666.8 225.1)"/><line x1="537.8" y1="273.2" x2="535.4" y2="252.8"/><line x1="537.8" y1="273.2" x2="552.1" y2="259.3"/><circle cx="537.8" cy="273.2" r="3.25" stroke="none"/><rect x="532.35" y="249.75" width="6.1" height="6.1" stroke="none" transform="rotate(45 535.4 252.8)"/><rect x="549.05" y="256.25" width="6.1" height="6.1" stroke="none" transform="rotate(0 552.1 259.3)"/><line x1="583.0" y1="271.7" x2="578.7" y2="251.9"/><line x1="583.0" y1="271.7" x2="565.6" y2="262.9"/><circle cx="583.0" cy="271.7" r="3.25" stroke="none"/><rect x="575.65" y="248.85" width="6.1" height="6.1" stroke="none" transform="rotate(25 578.7 251.9)"/><rect x="562.55" y="259.85" width="6.1" height="6.1" stroke="none" transform="rotate(20 565.6 262.9)"/><line x1="614.3" y1="272.0" x2="614.1" y2="252.6"/><line x1="614.3" y1="272.0" x2="598.8" y2="261.6"/><circle cx="614.3" cy="272.0" r="3.25" stroke="none"/><rect x="611.05" y="249.55" width="6.1" height="6.1" stroke="none" transform="rotate(45 614.1 252.6)"/><rect x="595.75" y="258.55" width="6.1" height="6.1" stroke="none" transform="rotate(20 598.8 261.6)"/><line x1="631.6" y1="265.9" x2="630.0" y2="246.7"/><line x1="631.6" y1="265.9" x2="646.2" y2="252.6"/><circle cx="631.6" cy="265.9" r="3.25" stroke="none"/><rect x="626.95" y="243.65" width="6.1" height="6.1" stroke="none" transform="rotate(45 630.0 246.7)"/><rect x="643.15" y="249.55" width="6.1" height="6.1" stroke="none" transform="rotate(0 646.2 252.6)"/><line x1="665.8" y1="271.1" x2="661.0" y2="251.8"/><line x1="665.8" y1="271.1" x2="646.8" y2="262.8"/><circle cx="665.8" cy="271.1" r="3.25" stroke="none"/><rect x="657.95" y="248.75" width="6.1" height="6.1" stroke="none" transform="rotate(25 661.0 251.8)"/><rect x="643.75" y="259.75" width="6.1" height="6.1" stroke="none" transform="rotate(25 646.8 262.8)"/></g>
<rect x="525.8" y="183.7" width="143.6" height="25.5" fill="rgba(240,254,134,0.80)"/>
<rect x="525.8" y="256.2" width="143.6" height="25.4" fill="rgba(240,254,134,0.80)"/>
<g class="ser"><text x="527.4" y="203.3">δ</text><line x1="536.8" y1="196.3" x2="546.0" y2="196.3"/><line x1="541.4" y1="191.7" x2="541.4" y2="200.9"/><text x="557.6" y="203.3">δ</text><line x1="567.0" y1="196.3" x2="576.2" y2="196.3"/><line x1="571.6" y1="191.7" x2="571.6" y2="200.9"/><text x="587.8" y="203.3">δ</text><line x1="597.1" y1="196.3" x2="606.3" y2="196.3"/><line x1="601.7" y1="191.7" x2="601.7" y2="200.9"/><text x="618.0" y="203.3">δ</text><line x1="627.4" y1="196.3" x2="636.6" y2="196.3"/><line x1="632.0" y1="191.7" x2="632.0" y2="200.9"/><text x="647.9" y="203.3">δ</text><line x1="657.3" y1="196.3" x2="666.5" y2="196.3"/><line x1="661.9" y1="191.7" x2="661.9" y2="200.9"/><text x="527.4" y="275.7">δ</text><line x1="536.8" y1="268.7" x2="546.0" y2="268.7"/><text x="557.6" y="275.7">δ</text><line x1="567.0" y1="268.7" x2="576.2" y2="268.7"/><text x="587.8" y="275.7">δ</text><line x1="597.1" y1="268.7" x2="606.3" y2="268.7"/><text x="618.0" y="275.7">δ</text><line x1="627.4" y1="268.7" x2="636.6" y2="268.7"/><text x="647.9" y="275.7">δ</text><line x1="657.3" y1="268.7" x2="666.5" y2="268.7"/></g>
<rect x="513" y="281.0" width="170.2" height="24.2" fill="#818382"/><polyline points="513.5,305.2 513.5,281.5 682.7,281.5 682.7,305.2" fill="none" stroke="#1a1a1a" stroke-width="1.1"/><line x1="513" y1="304.9" x2="683.2" y2="304.9" stroke="#555" stroke-width="0.7"/>
<text x="595.5" y="300.6" font-size="17.2" text-anchor="middle">Substrate</text>
</svg>
</body></html>
